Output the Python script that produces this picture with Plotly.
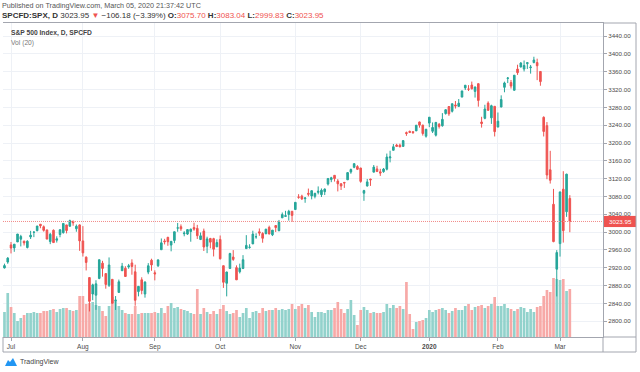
import plotly.graph_objects as go

# ---------------- data ----------------
month_days = [
    ("2019-06", [27, 28]),
    ("2019-07", [1, 2, 3, 5, 8, 9, 10, 11, 12, 15, 16, 17, 18, 19, 22, 23, 24, 25, 26, 29, 30, 31]),
    ("2019-08", [1, 2, 5, 6, 7, 8, 9, 12, 13, 14, 15, 16, 19, 20, 21, 22, 23, 26, 27, 28, 29, 30]),
    ("2019-09", [3, 4, 5, 6, 9, 10, 11, 12, 13, 16, 17, 18, 19, 20, 23, 24, 25, 26, 27, 30]),
    ("2019-10", [1, 2, 3, 4, 7, 8, 9, 10, 11, 14, 15, 16, 17, 18, 21, 22, 23, 24, 25, 28, 29, 30, 31]),
    ("2019-11", [1, 4, 5, 6, 7, 8, 11, 12, 13, 14, 15, 18, 19, 20, 21, 22, 25, 26, 27, 29]),
    ("2019-12", [2, 3, 4, 5, 6, 9, 10, 11, 12, 13, 16, 17, 18, 19, 20, 23, 24, 26, 27, 30, 31]),
    ("2020-01", [2, 3, 6, 7, 8, 9, 10, 13, 14, 15, 16, 17, 21, 22, 23, 24, 27, 28, 29, 30, 31]),
    ("2020-02", [3, 4, 5, 6, 7, 10, 11, 12, 13, 14, 18, 19, 20, 21, 24, 25, 26, 27, 28]),
    ("2020-03", [2, 3, 4, 5]),
]
dates = [f"{m}-{d:02d}" for m, days in month_days for d in days]

opens = [
    2919.66, 2932.94,
    2971.41, 2964.66, 2978.08, 2984.25, 2979.77, 2965.52, 2989.30, 2999.62, 3003.36, 3017.80, 3012.13, 3005.10, 2978.87, 3004.26, 2981.93, 2994.74, 2998.77, 3016.26, 3013.25, 3024.47, 3007.66, 3016.22,
    2980.32, 2943.90, 2898.07, 2861.18, 2858.65, 2896.21, 2930.51, 2907.07, 2880.72, 2894.15, 2846.20, 2864.74, 2913.48, 2919.01, 2922.04, 2930.94, 2911.07, 2866.70, 2893.14, 2861.28, 2910.37, 2937.09,
    2909.01, 2924.67, 2960.60, 2980.33, 2988.43, 2971.01, 2981.41, 3009.08, 3012.21, 2996.41, 2995.67, 3001.50, 3010.36, 3008.42, 2983.50, 3002.43, 2968.35, 2985.73, 2985.47, 2967.07,
    2983.69, 2924.78, 2885.38, 2918.56, 2944.23, 2920.40, 2911.10, 2918.55, 2963.07, 2965.81, 2973.61, 2989.68, 3000.77, 2996.84, 2996.48, 3010.73, 2994.01, 3014.78, 3003.32, 3032.12, 3035.39, 3039.74, 3046.90,
    3050.72, 3078.96, 3080.80, 3075.10, 3087.02, 3081.25, 3080.33, 3089.28, 3084.18, 3090.75, 3107.92, 3117.91, 3127.45, 3114.66, 3108.49, 3111.41, 3117.44, 3134.85, 3145.49, 3147.18,
    3143.85, 3087.41, 3103.50, 3119.21, 3134.62, 3141.86, 3135.36, 3135.75, 3141.23, 3166.65, 3183.63, 3195.40, 3195.21, 3192.32, 3223.33, 3226.05, 3225.45, 3227.20, 3247.23, 3240.09, 3215.18,
    3244.67, 3226.36, 3217.55, 3241.86, 3238.59, 3266.03, 3281.81, 3271.13, 3285.35, 3282.27, 3302.97, 3323.66, 3321.03, 3330.02, 3315.77, 3333.10, 3247.16, 3255.35, 3289.46, 3256.45, 3282.33,
    3235.66, 3280.61, 3324.91, 3344.92, 3335.54, 3318.28, 3365.87, 3370.50, 3365.90, 3378.08, 3369.04, 3380.39, 3380.45, 3360.50, 3257.61, 3238.94, 3139.90, 3062.54, 2916.90,
    2974.28, 3096.46, 3045.75, 3075.70,
]
highs = [
    2929.30, 2943.98,
    2977.93, 2973.21, 2995.84, 2994.03, 2980.76, 2981.90, 3002.98, 3002.33, 3013.92, 3017.80, 3015.02, 3005.26, 2998.28, 3006.02, 2990.71, 3005.90, 3019.59, 3016.31, 3027.98, 3025.61, 3017.19, 3017.40,
    3013.59, 2945.50, 2898.07, 2884.40, 2892.17, 2938.72, 2935.75, 2907.58, 2943.31, 2894.15, 2856.67, 2893.63, 2931.00, 2923.63, 2928.73, 2939.08, 2927.01, 2879.27, 2898.79, 2890.03, 2930.50, 2940.43,
    2914.39, 2938.84, 2985.86, 2985.03, 2989.43, 2979.39, 3000.93, 3020.74, 3017.33, 3002.19, 3006.21, 3007.83, 3021.19, 3016.37, 2999.15, 3007.98, 2989.82, 2987.28, 2987.31, 2983.85,
    2992.53, 2924.78, 2911.13, 2953.74, 2959.75, 2925.47, 2929.32, 2948.46, 2993.28, 2972.84, 3003.28, 2997.54, 3008.29, 3000.00, 3007.33, 3014.57, 3004.78, 3016.07, 3027.39, 3044.08, 3047.87, 3050.10, 3046.90,
    3066.95, 3085.20, 3083.95, 3078.34, 3097.77, 3093.09, 3088.33, 3102.61, 3098.06, 3098.20, 3120.46, 3124.17, 3127.64, 3118.97, 3110.11, 3112.87, 3133.83, 3142.69, 3154.26, 3150.30,
    3144.31, 3094.97, 3119.38, 3119.45, 3150.60, 3148.87, 3142.12, 3143.98, 3176.28, 3182.68, 3197.71, 3198.22, 3198.48, 3205.48, 3225.65, 3227.78, 3226.43, 3240.08, 3247.93, 3240.92, 3231.72,
    3258.14, 3246.15, 3246.84, 3244.91, 3267.07, 3275.58, 3282.99, 3288.13, 3294.25, 3298.66, 3317.11, 3329.88, 3329.79, 3337.77, 3326.88, 3333.18, 3258.85, 3285.78, 3293.47, 3285.91, 3282.33,
    3268.44, 3306.92, 3337.58, 3347.96, 3341.42, 3352.26, 3375.63, 3381.47, 3385.09, 3380.69, 3375.01, 3393.52, 3389.15, 3360.76, 3259.81, 3246.99, 3182.51, 3097.07, 2959.72,
    3090.96, 3136.72, 3130.97, 3083.04,
]
lows = [
    2918.57, 2929.05,
    2952.22, 2955.92, 2977.96, 2967.97, 2970.09, 2963.44, 2984.62, 2988.80, 3001.87, 3008.77, 3001.15, 2984.25, 2973.09, 2975.86, 2976.65, 2988.56, 2996.82, 2997.24, 3012.59, 3014.30, 3000.94, 2958.08,
    2945.23, 2914.11, 2822.12, 2847.42, 2825.71, 2894.47, 2900.15, 2873.14, 2877.05, 2839.64, 2825.51, 2864.74, 2913.48, 2899.60, 2917.91, 2904.51, 2834.97, 2856.00, 2860.59, 2853.05, 2905.67, 2913.32,
    2891.85, 2921.86, 2960.60, 2972.51, 2969.39, 2957.01, 2975.31, 3000.92, 3002.90, 2990.67, 2993.73, 2978.57, 3003.16, 2984.68, 2982.23, 2957.73, 2952.86, 2963.71, 2945.53, 2967.07,
    2938.70, 2874.93, 2855.94, 2918.56, 2935.68, 2892.66, 2907.41, 2917.12, 2963.07, 2962.94, 2973.61, 2985.20, 2991.79, 2976.31, 2995.35, 2995.04, 2991.21, 3000.42, 3001.94, 3032.12, 3034.81, 3025.96, 3023.19,
    3050.72, 3074.87, 3072.15, 3065.89, 3080.23, 3073.58, 3075.82, 3084.73, 3078.80, 3083.26, 3104.60, 3112.06, 3113.47, 3091.41, 3094.55, 3099.26, 3117.44, 3131.00, 3143.41, 3139.34,
    3110.78, 3070.33, 3102.53, 3103.76, 3134.62, 3135.46, 3126.09, 3133.21, 3138.47, 3156.51, 3183.63, 3191.03, 3191.14, 3192.32, 3216.03, 3222.30, 3220.51, 3227.20, 3234.37, 3216.57, 3212.03,
    3235.53, 3222.34, 3214.64, 3232.43, 3236.67, 3263.67, 3260.86, 3268.43, 3277.19, 3280.69, 3302.82, 3318.86, 3316.61, 3320.04, 3301.87, 3281.53, 3234.50, 3253.22, 3271.89, 3242.80, 3214.68,
    3235.66, 3280.61, 3313.75, 3334.39, 3322.12, 3317.77, 3352.72, 3369.72, 3360.52, 3366.15, 3355.61, 3378.83, 3341.02, 3328.45, 3214.65, 3118.77, 3108.99, 2977.39, 2855.84,
    2945.19, 2976.63, 3034.38, 2999.83,
]
closes = [
    2924.92, 2941.76,
    2964.33, 2973.01, 2995.82, 2990.41, 2975.95, 2979.63, 2993.07, 2999.91, 3013.77, 3014.30, 3004.04, 2984.42, 2995.11, 2976.61, 2985.03, 3005.47, 3019.56, 3003.67, 3025.86, 3020.97, 3013.18, 2980.38,
    2953.56, 2932.05, 2844.74, 2881.77, 2883.98, 2938.09, 2918.65, 2882.70, 2926.32, 2840.60, 2847.60, 2888.68, 2923.65, 2900.51, 2924.43, 2922.95, 2847.11, 2878.38, 2869.16, 2887.94, 2924.58, 2926.46,
    2906.27, 2937.78, 2976.00, 2978.71, 2978.43, 2979.39, 3000.93, 3009.57, 3007.39, 2997.96, 3005.70, 3006.73, 3006.79, 2992.07, 2991.78, 2966.60, 2984.87, 2977.62, 2961.79, 2976.74,
    2940.25, 2887.61, 2910.63, 2952.01, 2938.79, 2893.06, 2919.40, 2938.13, 2970.27, 2966.15, 2995.68, 2989.69, 2997.95, 2986.20, 3006.72, 2995.99, 3004.52, 3010.29, 3022.55, 3039.42, 3036.89, 3046.77, 3037.56,
    3066.91, 3078.27, 3074.62, 3076.78, 3085.18, 3093.08, 3087.01, 3091.84, 3094.04, 3096.63, 3120.46, 3122.03, 3120.18, 3108.46, 3103.54, 3110.29, 3133.64, 3140.52, 3153.63, 3140.98,
    3113.87, 3093.20, 3112.76, 3117.43, 3145.91, 3135.96, 3132.52, 3141.63, 3168.57, 3168.80, 3191.45, 3192.52, 3191.14, 3205.37, 3221.22, 3224.01, 3223.38, 3239.91, 3240.02, 3221.29, 3230.78,
    3257.85, 3234.85, 3246.28, 3237.18, 3253.05, 3274.70, 3265.35, 3288.13, 3283.15, 3289.29, 3316.81, 3329.62, 3320.79, 3321.75, 3325.54, 3295.47, 3243.63, 3276.24, 3273.40, 3283.66, 3225.52,
    3248.92, 3297.59, 3334.69, 3345.78, 3327.71, 3352.09, 3357.75, 3379.45, 3373.94, 3380.16, 3370.29, 3386.15, 3373.23, 3337.75, 3225.89, 3128.21, 3116.39, 2978.76, 2954.22,
    3090.23, 3003.37, 3130.12, 3023.95,
]
# volume (thousands)
volumes = [
    250, 440,
    300, 240, 160, 190, 220, 240, 240, 250, 240, 240, 260, 260, 270, 280, 250, 280, 290, 290, 270, 260, 270, 410,
    410, 330, 340, 350, 320, 310, 260, 210, 310, 400, 360, 310, 270, 240, 230, 230, 310, 230, 240, 240, 240, 240,
    250, 240, 290, 240, 310, 340, 290, 300, 280, 270, 260, 240, 230, 480, 230, 290, 250, 230, 260, 230,
    280, 320, 260, 230, 240, 270, 200, 240, 290, 190, 250, 260, 240, 290, 260, 270, 270, 290, 270, 280, 270, 280, 330,
    280, 310, 330, 290, 320, 250, 200, 250, 250, 240, 270, 270, 290, 350, 280, 240, 280, 370, 220, 120,
    270, 300, 270, 240, 250, 240, 240, 250, 330, 290, 320, 290, 310, 280, 550, 230, 80, 150, 160, 170, 190,
    270, 250, 270, 280, 290, 270, 240, 260, 290, 270, 270, 310, 330, 270, 300, 310, 320, 290, 310, 330, 400,
    310, 310, 330, 290, 280, 260, 280, 300, 290, 250, 280, 250, 300, 310, 410, 470, 450, 590, 580,
    570, 580, 460, 480,
]

price_ticks = list(range(2800, 3441, 40))
month_tick_dates = ["2019-07-01", "2019-08-01", "2019-09-03", "2019-10-01", "2019-11-01",
                    "2019-12-02", "2020-01-02", "2020-02-03", "2020-03-02"]
month_tick_text = ["Jul", "Aug", "Sep", "Oct", "Nov", "Dec", "<b>2020</b>", "Feb", "Mar"]
last_price = closes[-1]

# ---------------- styling ----------------
GREEN = "#26a69a"
RED = "#ef5350"
VGREEN = "#92d2cc"
VRED = "#f7a9a7"
GRID = "#eef1f6"
BORDER = "#a3a6af"
TXT = "#4a4a4a"
FONT = "Liberation Sans"

n = min(len(dates), len(opens), len(highs), len(lows), len(closes), len(volumes))
vol_colors = [VGREEN if closes[i] >= opens[i] else VRED for i in range(n)]

fig = go.Figure()
fig.add_trace(go.Bar(
    x=dates[:n], y=volumes[:n], marker=dict(color=vol_colors, line=dict(width=0)),
    yaxis="y", hoverinfo="skip", showlegend=False,
))
fig.add_trace(go.Candlestick(
    x=dates[:n], open=opens[:n], high=highs[:n], low=lows[:n], close=closes[:n],
    yaxis="y2", showlegend=False,
    increasing=dict(line=dict(color=GREEN, width=1), fillcolor=GREEN),
    decreasing=dict(line=dict(color=RED, width=1), fillcolor=RED),
))

W, H = 640, 372
L, R, T, B = 3, 37, 23, 35
pw, ph = W - L - R, H - T - B


def px(x):
    return (x - L) / pw


def py(y):
    return (H - B - y) / ph


fig.update_layout(
    width=W, height=H,
    margin=dict(l=L, r=R, t=T, b=B, pad=0),
    paper_bgcolor="white", plot_bgcolor="white",
    bargap=0.18,
    font=dict(family=FONT, size=7, color=TXT),
    xaxis=dict(
        type="category", range=[-0.45, 183.15],
        tickmode="array", tickvals=month_tick_dates, ticktext=month_tick_text,
        showgrid=True, gridcolor=GRID, gridwidth=1,
        ticks="outside", ticklen=3, tickcolor=BORDER,
        showline=True, linecolor=BORDER, linewidth=1, mirror=True,
        tickfont=dict(size=6.5, color=TXT, family=FONT),
        rangeslider=dict(visible=False), zeroline=False, fixedrange=True,
    ),
    yaxis=dict(
        range=[0, 3140], showgrid=False, showticklabels=False, zeroline=False,
        showline=False, fixedrange=True,
    ),
    yaxis2=dict(
        overlaying="y", side="right", range=[2764.8, 3469.2],
        tickmode="array", tickvals=price_ticks, tickformat=".2f",
        showgrid=True, gridcolor=GRID, gridwidth=1,
        ticks="outside", ticklen=3, tickcolor=BORDER,
        showline=True, linecolor=BORDER, linewidth=1,
        tickfont=dict(size=6.2, color=TXT, family=FONT),
        zeroline=False, fixedrange=True,
    ),
)

shapes = []
# last price dotted line
shapes.append(dict(type="line", xref="paper", yref="y2", x0=0, x1=1, y0=last_price, y1=last_price,
                   line=dict(color="#f28b89", width=1, dash="1px,1px"), layer="above"))
# last price label box on the price scale
shapes.append(dict(type="rect", xref="paper", yref="y2", x0=px(604), x1=px(636),
                   y0=last_price - 12.5, y1=last_price + 12.5, fillcolor=RED, line=dict(width=0)))
# outer frame (price scale column and time-axis row)
for (x0, y0, x1, y1) in [
    (603, 23, 636, 23), (636, 23, 636, 352), (3, 352, 636, 352),
    (3, 337, 3, 352), (603, 337, 603, 352), (603, 337, 636, 337),
]:
    shapes.append(dict(type="line", xref="paper", yref="paper", x0=px(x0), x1=px(x1),
                       y0=py(y0), y1=py(y1), line=dict(color=BORDER, width=1)))
# logo cloud
shapes.append(dict(type="path", xref="paper", yref="paper",
                   path=f"M {px(5)} {py(366)} L {px(8)} {py(360)} L {px(10)} {py(362)} "
                        f"L {px(13)} {py(358)} L {px(17)} {py(366)} Z",
                   fillcolor="#2196f3", line=dict(width=0)))
fig.update_layout(shapes=shapes)

ann = []
ann.append(dict(xref="paper", yref="y2", x=px(620), y=last_price, text=f"{last_price:.2f}",
                showarrow=False, font=dict(size=6.2, color="white", family=FONT),
                xanchor="center", yanchor="middle"))
ann.append(dict(xref="paper", yref="paper", x=px(0), y=py(6),
                text="Published on TradingView.com, March 05, 2020 21:37:42 UTC",
                showarrow=False, xanchor="left", yanchor="middle",
                font=dict(size=7.2, color="#555555", family=FONT)))
red = lambda s: f"<span style='color:{RED}'>{s}</span>"
line2 = ("<b>SPCFD:SPX, D</b> 3023.95 " + red("▼") + " −106.18 (−3.39%) "
         "<b>O:</b>" + red("3075.70") + " <b>H:</b>" + red("3083.04") +
         " <b>L:</b>" + red("2999.83") + " <b>C:</b>" + red("3023.95"))
ann.append(dict(xref="paper", yref="paper", x=px(0), y=py(16), text=line2,
                showarrow=False, xanchor="left", yanchor="middle",
                font=dict(size=8.0, color="#333333", family=FONT)))
ann.append(dict(xref="paper", yref="paper", x=px(9), y=py(33),
                text="<b>S&P 500 Index, D, SPCFD</b>", showarrow=False,
                xanchor="left", yanchor="middle", font=dict(size=6.7, color="#444444", family=FONT)))
ann.append(dict(xref="paper", yref="paper", x=px(9), y=py(43), text="Vol (20)",
                showarrow=False, xanchor="left", yanchor="middle",
                font=dict(size=6.7, color="#777777", family=FONT)))
ann.append(dict(xref="paper", yref="paper", x=px(18), y=py(362), text="TradingView",
                showarrow=False, xanchor="left", yanchor="middle",
                font=dict(size=7, color="#444444", family=FONT)))
fig.update_layout(annotations=ann)

fig.write_html("out.html", config=dict(displayModeBar=False),
               post_script="document.body.style.margin='0';document.body.style.overflow='hidden';")
